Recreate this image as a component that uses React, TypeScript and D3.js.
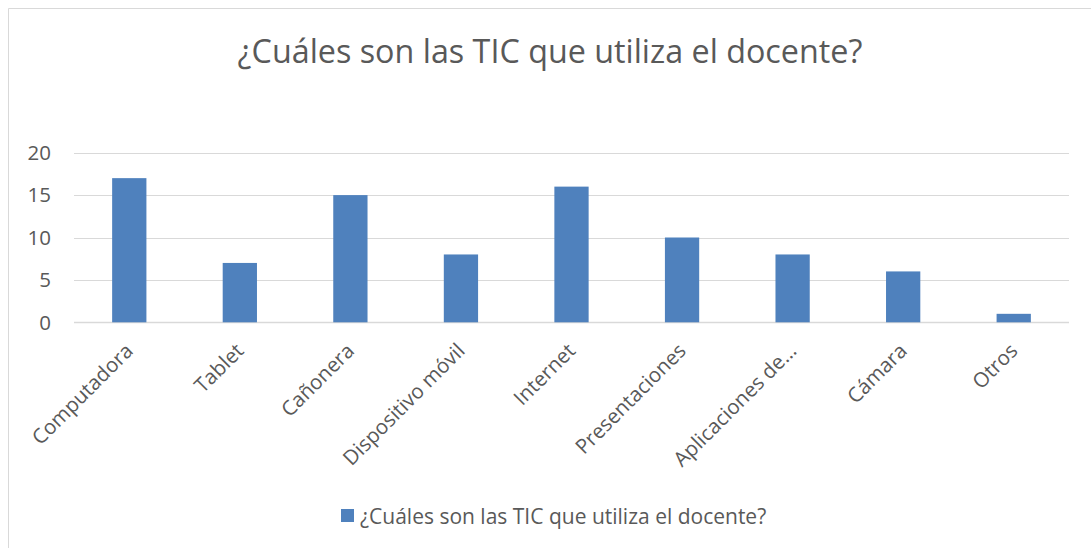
import React from "react";
import * as d3 from "d3";

const categories = [
  "Computadora",
  "Tablet",
  "Cañonera",
  "Dispositivo móvil",
  "Internet",
  "Presentaciones",
  "Aplicaciones de…",
  "Cámara",
  "Otros",
];
const values = [17, 7, 15, 8, 16, 10, 8, 6, 1];
const yTicks = [0, 5, 10, 15, 20];
const title = "¿Cuáles son las TIC que utiliza el docente?";
const seriesName = "¿Cuáles son las TIC que utiliza el docente?";

const W = 1091;
const H = 548;
const FONT = "'Open Sans', 'Noto Sans', sans-serif";
const TEXT = "#595959";
const GRID = "#d9d9d9";
const BAR = "#4F81BD";

export default function App() {
  const x = d3.scaleBand<string>().domain(categories).range([74, 1069]).paddingInner(0.69).paddingOuter(0.345);
  const y = d3.scaleLinear().domain([0, 20]).range([322.3, 152.7]);
  return (
    <svg width={W} height={H} style={{ position: "absolute", left: 0, top: 0, background: "#fff" }}>
      <line x1={8.5} y1={8.5} x2={W} y2={8.5} stroke={GRID} />
      <line x1={8.5} y1={8.5} x2={8.5} y2={H} stroke={GRID} />
      <text x={550} y={63} textAnchor="middle" fontFamily={FONT} fontSize={32.3} fill={TEXT}>
        {title}
      </text>
      {yTicks.map((t) => (
        <g key={t}>
          <line x1={74} x2={1069} y1={Math.round(y(t)) + 0.5} y2={Math.round(y(t)) + 0.5} stroke={GRID} strokeWidth={t === 0 ? 1.5 : 1} />
          <text x={51} y={y(t)} dy="0.36em" textAnchor="end" fontFamily={FONT} fontSize={20.5} fill={TEXT}>
            {t}
          </text>
        </g>
      ))}
      {categories.map((c, i) => (
        <rect key={c} x={x(c)} y={y(values[i])} width={x.bandwidth()} height={y(0) - y(values[i])} fill={BAR} />
      ))}
      {categories.map((c) => {
        const cx = (x(c) as number) + x.bandwidth() / 2;
        return (
          <text
            key={c}
            transform={`translate(${cx - 5},${342}) rotate(-45)`}
            textAnchor="end"
            dy="0.7em"
            fontFamily={FONT}
            fontSize={20.5}
            fill={TEXT}
          >
            {c}
          </text>
        );
      })}
      <rect x={341} y={509} width={13} height={13} fill={BAR} />
      <text x={360} y={516} dy="0.36em" fontFamily={FONT} fontSize={21} fill={TEXT}>
        {seriesName}
      </text>
    </svg>
  );
}
